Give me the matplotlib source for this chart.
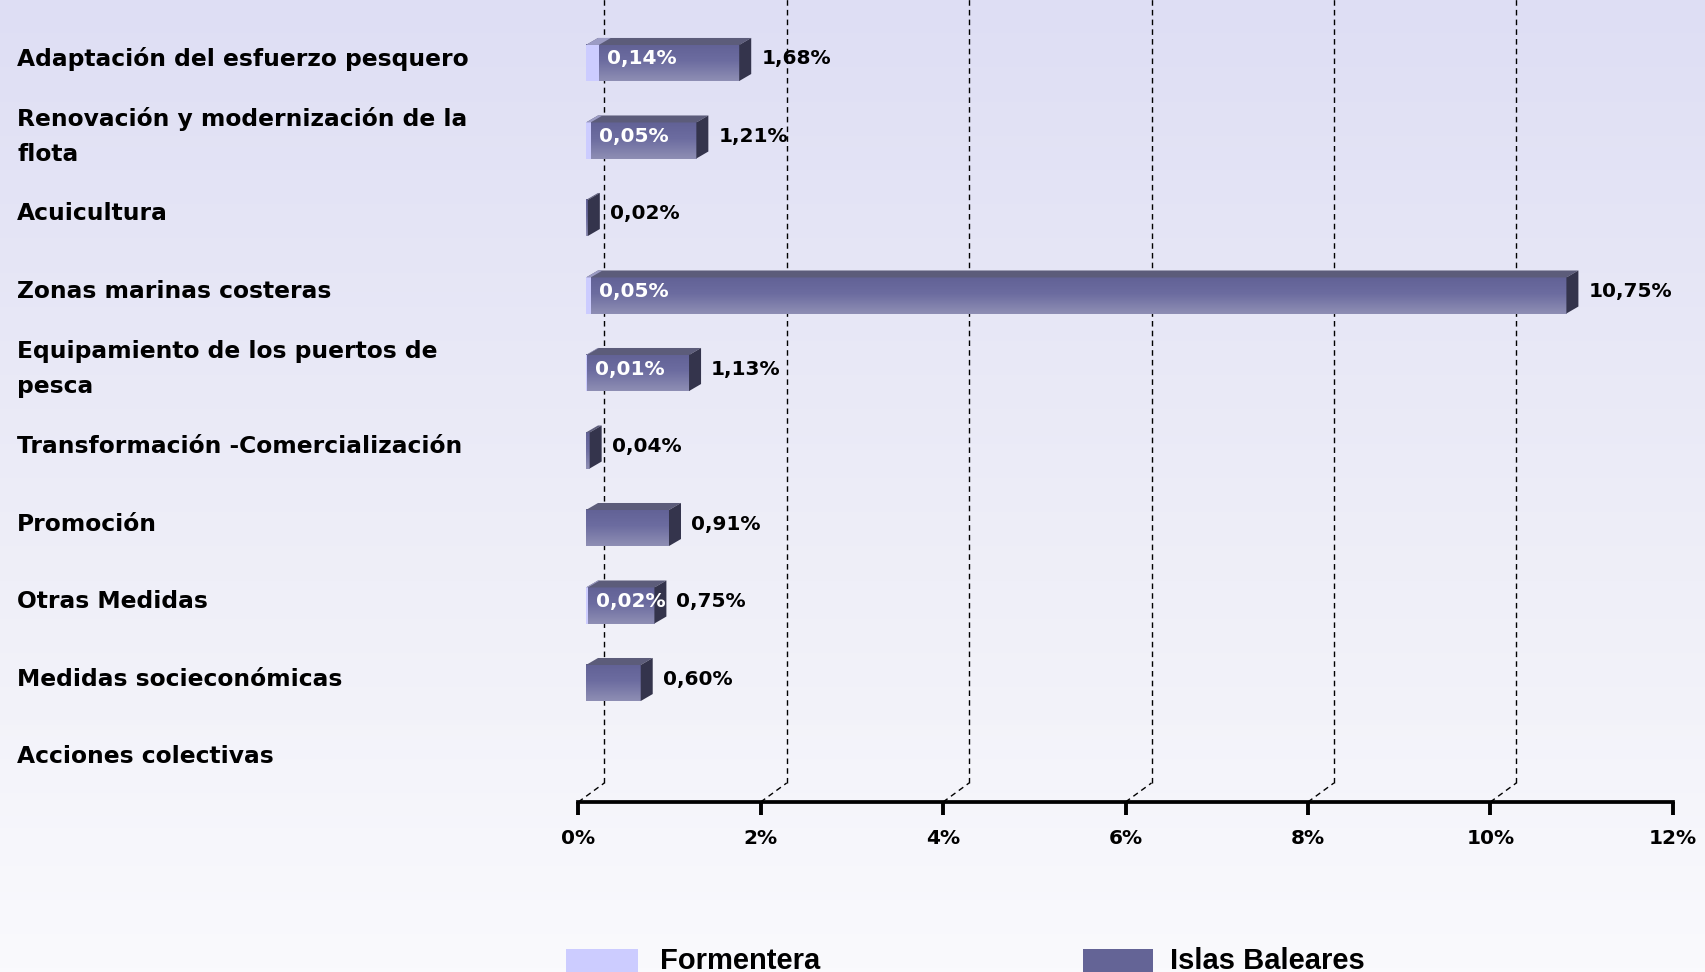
#!/usr/bin/env python3
"""
Pseudo-3D horizontal bar chart: Formentera vs Islas Baleares by measure.
"""

import numpy as np
import matplotlib
matplotlib.use("Agg")
import matplotlib.pyplot as plt
from matplotlib.patches import Polygon, Rectangle
from matplotlib.transforms import Affine2D, IdentityTransform, blended_transform_factory
from matplotlib.colors import LinearSegmentedColormap

# --- data ---------------------------------------------------------------
categories = [
    "Adaptación del esfuerzo pesquero",
    "Renovación y modernización de la\nflota",
    "Acuicultura",
    "Zonas marinas costeras",
    "Equipamiento de los puertos de\npesca",
    "Transformación -Comercialización",
    "Promoción",
    "Otras Medidas",
    "Medidas socieconómicas",
    "Acciones colectivas",
]
formentera = [0.14, 0.05, None, 0.05, 0.01, None, None, 0.02, None, None]
baleares = [1.68, 1.21, 0.02, 10.75, 1.13, 0.04, 0.91, 0.75, 0.60, None]
x_ticks = [0, 2, 4, 6, 8, 10, 12]
tick_labels = [f"{t}%" for t in x_ticks]
series_names = ["Formentera", "Islas Baleares"]

# --- style ----------------------------------------------------------------
W, H = 1706, 972
FONT = "DejaVu Sans"
BAR_H = 0.465            # bar thickness in row units
BAR_SHIFT = (7.7, 5.6)   # bar front plane vs floor edge (px)
DEPTH = (12, 7)          # bar depth (px)
GRID_SHIFT = (26, 19)    # back wall vs floor edge (px)
C_FORM = "#ccccff"
C_FORM_TOP = "#9c9cc4"
C_BAL = "#646496"
C_BAL_TOP = "#5c5c7a"
C_BAL_SIDE = "#34344c"

bal_cmap = LinearSegmentedColormap.from_list(
    "bal", [(0, "#8e8eb4"), (0.55, "#6c6ca0"), (1, "#626296")])
bg_cmap = LinearSegmentedColormap.from_list(
    "bg", [(0, "#dedef4"), (0.6, "#efeff8"), (1, "#fafafd")])


def fmt(v):
    return f"{v:.2f}".replace(".", ",") + "%"


def draw_box(ax, val, y, front, top_color, side_color=None, z=3):
    """Front face (gradient or flat) + top face + optional right face."""
    tr = ax.transData + Affine2D().translate(*BAR_SHIFT)
    if isinstance(front, str):
        ax.add_patch(Rectangle((0, y - BAR_H / 2), val, BAR_H, transform=tr,
                               fc=front, ec="none", zorder=z))
    else:
        grad = np.linspace(0, 1, 64).reshape(-1, 1)
        ax.imshow(grad, cmap=front, origin="lower", aspect="auto",
                  extent=[0, val, y + BAR_H / 2, y - BAR_H / 2],
                  transform=tr, zorder=z, interpolation="bilinear")
    xl, yb = tr.transform((0, y + BAR_H / 2))
    xr, yt = tr.transform((val, y - BAR_H / 2))
    dx, dy = DEPTH
    ax.add_patch(Polygon([(xl, yt), (xr, yt), (xr + dx, yt + dy), (xl + dx, yt + dy)],
                         transform=IdentityTransform(), fc=top_color, ec="none", zorder=z))
    if side_color is not None:
        ax.add_patch(Polygon([(xr, yb), (xr, yt), (xr + dx, yt + dy), (xr + dx, yb + dy)],
                             transform=IdentityTransform(), fc=side_color, ec="none", zorder=z))


def main():
    fig = plt.figure(figsize=(W / 100, H / 100), dpi=100)

    # background gradient
    bg = fig.add_axes([0, 0, 1, 1], zorder=-10)
    bg.imshow(np.linspace(0, 1, 256).reshape(-1, 1), cmap=bg_cmap,
              aspect="auto", extent=[0, 1, 0, 1])
    bg.axis("off")

    ax = fig.add_axes([578.3 / W, (H - 802) / H, 12 * 91.2 / W, 802 / H])
    ax.set_facecolor("none")
    ax.set_xlim(0, 12)
    ax.set_ylim(9.463, -0.885)
    ax.set_autoscale_on(False)

    # axis / ticks
    for s in ["top", "right", "left"]:
        ax.spines[s].set_visible(False)
    ax.spines["bottom"].set_linewidth(2.7)
    ax.set_yticks([])
    ax.set_xticks(x_ticks)
    ax.set_xticklabels(tick_labels, fontsize=14.5, fontweight="bold", family=FONT)
    ax.tick_params(axis="x", length=9.5, width=2.8, pad=10)

    # back wall gridlines
    y_floor = ax.get_ylim()[0]
    tr_grid = ax.transData + Affine2D().translate(*GRID_SHIFT)
    for k in x_ticks[:-1]:
        ax.plot([k, k], list(ax.get_ylim()), transform=tr_grid, color="black",
                lw=1, ls=(0, (4, 3)), zorder=1)
        x0, y0 = ax.transData.transform((k, y_floor))
        ax.plot([x0, x0 + GRID_SHIFT[0]], [y0, y0 + GRID_SHIFT[1]],
                transform=IdentityTransform(), color="black", lw=1,
                ls=(0, (4, 3)), zorder=1)

    # bars
    for i, (fv, bv) in enumerate(zip(formentera, baleares)):
        if bv is not None:
            draw_box(ax, bv, i, bal_cmap, C_BAL_TOP, C_BAL_SIDE)
            ax.text(bv, i, fmt(bv), fontsize=14.5, fontweight="bold", family=FONT,
                    ha="left", va="center", color="black", zorder=6,
                    transform=ax.transData + Affine2D().translate(BAR_SHIFT[0] + 22, BAR_SHIFT[1] + 4))
        if fv is not None:
            draw_box(ax, fv, i, C_FORM, C_FORM_TOP, None, z=4)
            ax.text(fv, i, fmt(fv), fontsize=14.5, fontweight="bold", family=FONT,
                    ha="left", va="center", color="white", zorder=6,
                    transform=ax.transData + Affine2D().translate(BAR_SHIFT[0] + 8, BAR_SHIFT[1] + 4))

    # category labels
    tr_lab = blended_transform_factory(fig.transFigure, ax.transData) + \
        Affine2D().translate(0, BAR_SHIFT[1] + 4)
    for i, cat in enumerate(categories):
        ax.text(17 / W, i, cat, transform=tr_lab, fontsize=16.8, fontweight="bold",
                family=FONT, ha="left", va="center", linespacing=1.7, clip_on=False)

    # legend (sits on the bottom edge, like the original)
    for (x0, x1, tx), name, col in zip([(566, 638, 660), (1083, 1153, 1170)],
                                       series_names, [C_FORM, C_BAL]):
        fig.patches.append(Rectangle((x0 / W, -0.01), (x1 - x0) / W, (972 - 949) / H + 0.01,
                                     transform=fig.transFigure, fc=col, ec="none"))
        fig.text(tx / W, 3 / H, name, fontsize=21, fontweight="bold",
                 family=["Liberation Sans", "DejaVu Sans"], ha="left", va="baseline")

    fig.savefig("out.png", dpi=100)


if __name__ == "__main__":
    main()
